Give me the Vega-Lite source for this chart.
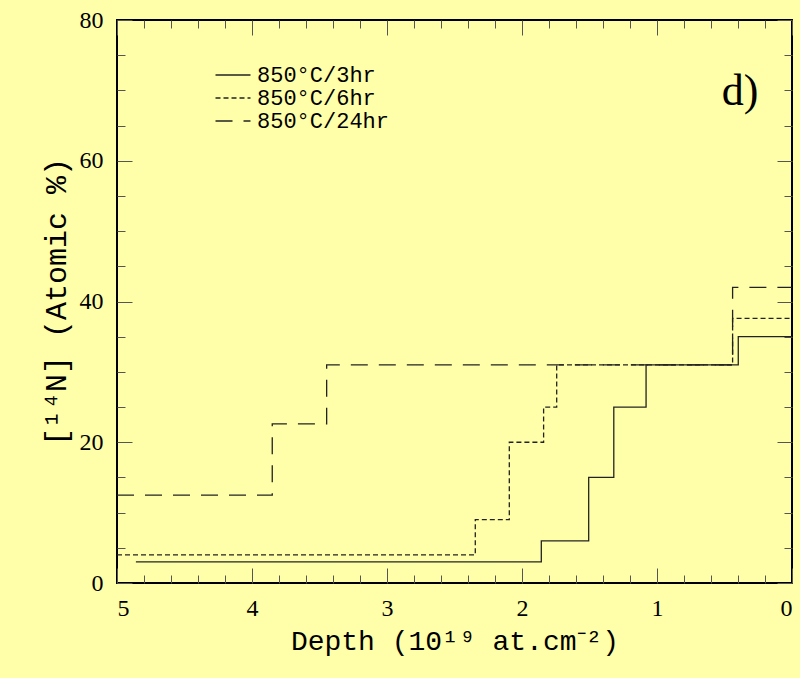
{
  "$schema": "https://vega.github.io/schema/vega-lite/v6.json",
  "autosize": {"type": "none"},
  "padding": {"left": 117, "top": 20, "right": 8, "bottom": 95},
  "width": 675,
  "height": 563,
  "background": "#FFFFAA",
  "data": {"values": [
    {"series": "850°C/3hr", "depth": 4.86, "n": 3},
    {"series": "850°C/3hr", "depth": 1.857, "n": 6},
    {"series": "850°C/3hr", "depth": 1.506, "n": 15},
    {"series": "850°C/3hr", "depth": 1.32, "n": 25},
    {"series": "850°C/3hr", "depth": 1.081, "n": 31},
    {"series": "850°C/3hr", "depth": 0.398, "n": 35},
    {"series": "850°C/3hr", "depth": 0, "n": 35},
    {"series": "850°C/6hr", "depth": 5, "n": 4},
    {"series": "850°C/6hr", "depth": 2.346, "n": 9},
    {"series": "850°C/6hr", "depth": 2.094, "n": 20},
    {"series": "850°C/6hr", "depth": 1.84, "n": 25},
    {"series": "850°C/6hr", "depth": 1.743, "n": 31},
    {"series": "850°C/6hr", "depth": 0.44, "n": 37.6},
    {"series": "850°C/6hr", "depth": 0, "n": 37.6},
    {"series": "850°C/24hr", "depth": 5, "n": 12.5},
    {"series": "850°C/24hr", "depth": 3.85, "n": 22.6},
    {"series": "850°C/24hr", "depth": 3.447, "n": 31},
    {"series": "850°C/24hr", "depth": 0.44, "n": 42},
    {"series": "850°C/24hr", "depth": 0, "n": 42}
  ]},
  "resolve": {"axis": {"x": "independent", "y": "independent"}},
  "layer": [
    {
      "mark": {"type": "line", "interpolate": "step-after", "color": "#222", "strokeWidth": 1.3},
      "encoding": {
        "x": {"field": "depth", "type": "quantitative",
              "scale": {"domain": [0, 5], "reverse": true, "nice": false, "zero": false},
              "axis": {"orient": "bottom", "values": [0, 1, 2, 3, 4, 5], "tickSize": -15, "labelPadding": 28,
                       "title": "Depth (10¹⁹ at.cm⁻²)", "titlePadding": 7}},
        "y": {"field": "n", "type": "quantitative",
              "scale": {"domain": [0, 80], "nice": false, "zero": false},
              "axis": {"orient": "left", "values": [0, 20, 40, 60, 80], "tickSize": -15, "labelPadding": 29,
                       "title": "[¹⁴N] (Atomic %)", "titlePadding": 8, "titleFontSize": 30}},
        "strokeDash": {"field": "series", "type": "nominal",
                       "scale": {"domain": ["850°C/3hr", "850°C/6hr", "850°C/24hr"], "range": [[1, 0], [5, 3], [17, 11]]},
                       "legend": {"orient": "none", "legendX": 105, "legendY": 44, "title": null,
                                  "symbolType": "M-2,0H2", "symbolSize": 306, "symbolStrokeWidth": 1.3,
                                  "symbolStrokeColor": "#222", "labelFont": "Liberation Mono", "labelFontSize": 22,
                                  "labelColor": "#000", "labelOffset": 13, "rowPadding": 1, "padding": 0}},
        "order": {"field": "depth", "sort": "descending"}
      }
    },
    {
      "mark": {"type": "line", "opacity": 0},
      "encoding": {
        "x": {"field": "depth", "type": "quantitative",
              "axis": {"orient": "bottom", "values": [0.2, 0.4, 0.6, 0.8, 1.2, 1.4, 1.6, 1.8, 2.2, 2.4, 2.6, 2.8, 3.2, 3.4, 3.6, 3.8, 4.2, 4.4, 4.6, 4.8],
                       "tickSize": -8, "labels": false, "title": null}},
        "y": {"field": "n", "type": "quantitative",
              "axis": {"orient": "left", "values": [5, 10, 15, 25, 30, 35, 45, 50, 55, 65, 70, 75],
                       "tickSize": -8, "labels": false, "title": null}},
        "detail": {"field": "series"}
      }
    },
    {
      "mark": {"type": "line", "opacity": 0},
      "encoding": {
        "x": {"field": "depth", "type": "quantitative",
              "axis": {"orient": "top", "values": [0, 1, 2, 3, 4, 5], "tickSize": -15, "labels": false, "title": null}},
        "y": {"field": "n", "type": "quantitative",
              "axis": {"orient": "right", "values": [0, 20, 40, 60, 80], "tickSize": -15, "labels": false, "title": null}},
        "detail": {"field": "series"}
      }
    },
    {
      "mark": {"type": "line", "opacity": 0},
      "encoding": {
        "x": {"field": "depth", "type": "quantitative",
              "axis": {"orient": "top", "values": [0.2, 0.4, 0.6, 0.8, 1.2, 1.4, 1.6, 1.8, 2.2, 2.4, 2.6, 2.8, 3.2, 3.4, 3.6, 3.8, 4.2, 4.4, 4.6, 4.8],
                       "tickSize": -8, "labels": false, "title": null}},
        "y": {"field": "n", "type": "quantitative",
              "axis": {"orient": "right", "values": [5, 10, 15, 25, 30, 35, 45, 50, 55, 65, 70, 75],
                       "tickSize": -8, "labels": false, "title": null}},
        "detail": {"field": "series"}
      }
    },
    {
      "data": {"values": [{"label": "d)", "depth": 0.385, "n": 69.7}]},
      "mark": {"type": "text", "font": "Liberation Serif", "fontSize": 44, "color": "#000", "align": "center", "baseline": "middle"},
      "encoding": {
        "x": {"field": "depth", "type": "quantitative", "axis": null},
        "y": {"field": "n", "type": "quantitative", "axis": null},
        "text": {"field": "label"}
      }
    }
  ],
  "config": {
    "view": {"stroke": "#000", "strokeWidth": 2},
    "axis": {
      "grid": false, "domain": false, "tickColor": "#555", "tickWidth": 1,
      "labelFont": "Liberation Serif", "labelFontSize": 24, "labelColor": "#000",
      "titleFont": "Liberation Mono", "titleFontSize": 28, "titleFontWeight": "normal", "titleColor": "#000"
    }
  }
}
